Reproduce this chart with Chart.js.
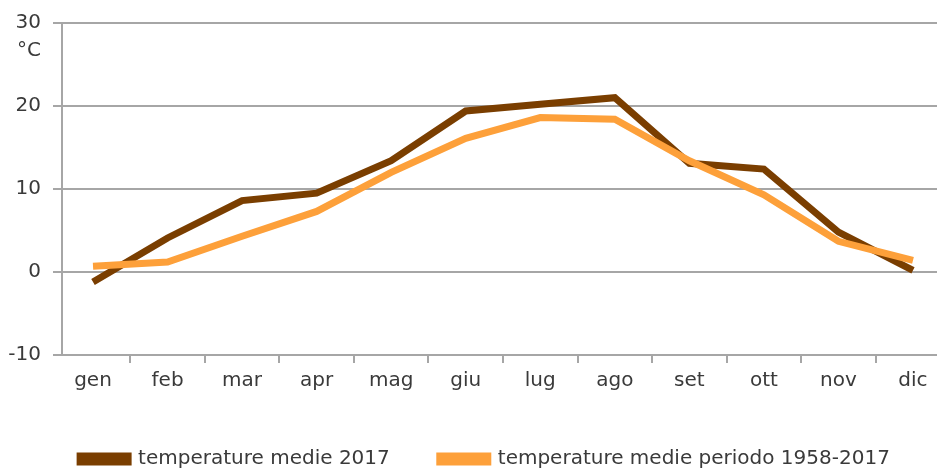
<!DOCTYPE html>
<html>
<head>
<meta charset="utf-8">
<script src="https://cdn.jsdelivr.net/npm/chart.js@4.4.1/dist/chart.umd.min.js"></script>
<style>
  html, body { margin: 0; padding: 0; background: #fff; overflow: hidden; }
  #wrap { width: 937px; height: 470px; }
</style>
</head>
<body>
<div id="wrap"><canvas id="myChart" width="937" height="470"></canvas></div>
<script>
const months = ['gen', 'feb', 'mar', 'apr', 'mag', 'giu', 'lug', 'ago', 'set', 'ott', 'nov', 'dic'];
const temp2017 = [-1.2, 4.1, 8.6, 9.5, 13.4, 19.4, 20.2, 21.0, 13.1, 12.4, 4.8, 0.2];
const tempMedia = [0.7, 1.2, 4.3, 7.3, 12.0, 16.1, 18.6, 18.4, 13.4, 9.3, 3.7, 1.4];
const yTicks = [-10, 0, 10, 20, 30];
const seriesNames = ['temperature medie 2017', 'temperature medie periodo 1958-2017'];

const FONT = 'DejaVu Sans';
const GRID = '#a6a6a6';
const TEXT = '#3a3a3a';

// punti {x: indice mese, y: valore}
const toPoints = arr => arr.map((v, i) => ({ x: i, y: v }));

const unitLabel = {
  id: 'unitLabel',
  afterInit(chart) {
    // legenda meno alta: lascia più spazio al grafico
    const lg = chart.legend;
    const fit = lg.fit.bind(lg);
    lg.fit = function () { fit(); this.height -= 9; };
  },
  afterDraw(chart) {
    const y = chart.scales.y;
    const c = chart.ctx;
    c.save();
    c.font = '20px "' + FONT + '"';
    c.fillStyle = TEXT;
    c.textAlign = 'right';
    c.textBaseline = 'middle';
    c.fillText('°C', y.right - 21, y.getPixelForValue(30) + 28);
    c.restore();
  }
};

const ctx = document.getElementById('myChart').getContext('2d');
const myChart = new Chart(ctx, {
  type: 'line',
  data: {
    datasets: [{
      label: seriesNames[0],
      data: toPoints(temp2017),
      borderColor: '#7a3e00',
      backgroundColor: '#7a3e00',
      borderWidth: 7,
      pointRadius: 0,
      tension: 0,
      order: 1
    }, {
      label: seriesNames[1],
      data: toPoints(tempMedia),
      borderColor: '#fda03a',
      backgroundColor: '#fda03a',
      borderWidth: 7,
      pointRadius: 0,
      tension: 0,
      order: 0
    }]
  },
  options: {
    responsive: false,
    animation: false,
    layout: { padding: { left: 0, top: 10, right: -33, bottom: 0 } },
    plugins: {
      tooltip: { enabled: false },
      legend: {
        position: 'bottom',
        labels: {
          sort: (a, b) => a.datasetIndex - b.datasetIndex,
          boxWidth: 48,
          boxHeight: 6,
          padding: 50,
          color: TEXT,
          font: { family: FONT, size: 20 }
        }
      }
    },
    scales: {
      x: {
        type: 'linear',
        min: -0.416,
        max: 11.322,
        grid: {
          offset: true,
          drawOnChartArea: false,
          color: GRID,
          lineWidth: 2,
          tickLength: 8
        },
        border: { display: true, color: GRID, width: 2 },
        ticks: {
          stepSize: 1,
          includeBounds: false,
          autoSkip: false,
          maxRotation: 0,
          padding: 8,
          color: TEXT,
          font: { family: FONT, size: 20, lineHeight: 1.0 },
          callback: v => months[v] || ''
        }
      },
      y: {
        min: -10,
        max: 30,
        afterBuildTicks: s => { s.ticks = yTicks.map(v => ({ value: v })); },
        afterFit: s => { s.width = 62; },
        grid: { color: GRID, lineWidth: 2, tickLength: 9 },
        border: { display: true, color: GRID, width: 2 },
        ticks: {
          padding: 12,
          color: TEXT,
          font: { family: FONT, size: 20, lineHeight: 1.1 }
        }
      }
    }
  },
  plugins: [unitLabel]
});
</script>
</body>
</html>
